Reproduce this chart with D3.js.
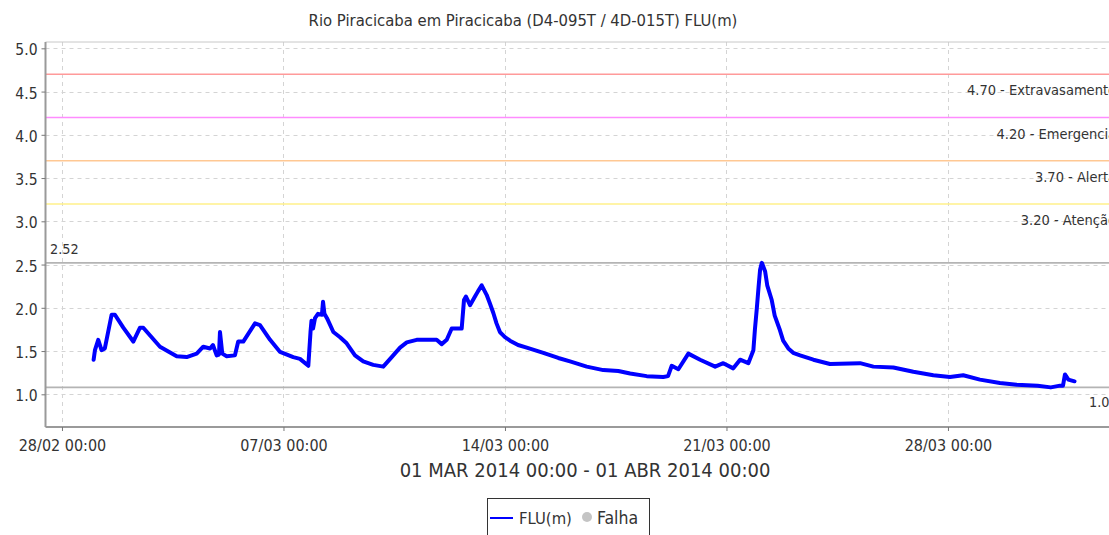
<!DOCTYPE html>
<html>
<head>
<meta charset="utf-8">
<script src="https://cdn.jsdelivr.net/npm/d3@7"></script>
<style>
  html, body { margin: 0; padding: 0; background: #fff; overflow: hidden; }
  svg { display: block; }
  text { font-family: "DejaVu Sans Condensed", "DejaVu Sans", sans-serif; fill: #333; }
</style>
</head>
<body>
<svg id="chart" width="1109" height="535"></svg>
<script>
// River level readings (FLU, metres), March 2014, "DD/MM HH:MM"
const times = [
  "01/03 00:00","01/03 01:00","01/03 03:30","01/03 06:00","01/03 08:30","01/03 13:40","01/03 16:10","01/03 22:30",
  "02/03 06:05","02/03 11:10","02/03 13:40","03/03 02:20","03/03 15:00","03/03 22:35","04/03 06:10","04/03 11:10",
  "04/03 16:20","04/03 18:30","04/03 21:20","04/03 23:05","04/03 23:50","05/03 01:35","05/03 04:55","05/03 11:10",
  "05/03 13:40","05/03 17:30","06/03 02:25","06/03 06:10","06/03 13:50","06/03 21:25","07/03 07:25","07/03 12:30",
  "07/03 18:50","07/03 20:30","07/03 21:15","07/03 22:25","07/03 23:55","08/03 02:10","08/03 05:10","08/03 06:00",
  "08/03 07:05","08/03 09:00","08/03 13:50","08/03 18:55","08/03 23:55","09/03 06:15","09/03 12:30","09/03 20:05",
  "10/03 03:40","10/03 10:05","10/03 16:25","10/03 21:30","11/03 05:00","11/03 20:10","12/03 00:00","12/03 03:50",
  "12/03 07:35","12/03 15:10","12/03 16:55","12/03 18:25","12/03 21:30","13/03 01:15","13/03 03:30","13/03 06:20",
  "13/03 10:05","13/03 12:35","13/03 15:10","13/03 17:35","13/03 20:10","14/03 00:00","14/03 03:50","14/03 09:55",
  "14/03 16:30","15/03 05:05","15/03 16:25","16/03 01:20","16/03 14:00","17/03 02:35","17/03 14:00","17/03 22:55",
  "18/03 11:30","19/03 00:05","19/03 03:40","19/03 06:30","19/03 11:30","19/03 19:05","20/03 04:00","20/03 15:25",
  "20/03 21:35","21/03 05:10","21/03 10:20","21/03 16:35","21/03 20:25","21/03 21:35","21/03 23:00","22/03 00:20",
  "22/03 01:30","22/03 02:50","22/03 05:20","22/03 06:55","22/03 10:20","22/03 12:35","22/03 16:35","22/03 19:00",
  "22/03 22:55","23/03 02:35","23/03 07:50","23/03 17:55","24/03 06:30","25/03 05:20","25/03 15:25","26/03 06:35",
  "26/03 21:45","27/03 12:55","28/03 01:30","28/03 11:35","29/03 00:15","29/03 15:25","30/03 04:05","30/03 20:00",
  "31/03 06:00","31/03 13:00","31/03 15:15","31/03 16:45","31/03 19:20","01/04 00:00"
];
const flu = [
  1.40,1.51,1.63,1.51,1.53,1.92,1.92,1.77,
  1.61,1.77,1.77,1.55,1.44,1.43,1.47,1.55,
  1.53,1.57,1.45,1.46,1.72,1.47,1.44,1.45,
  1.61,1.61,1.82,1.80,1.63,1.49,1.43,1.41,
  1.33,1.72,1.85,1.76,1.88,1.93,1.92,2.07,
  1.93,1.88,1.72,1.66,1.59,1.45,1.38,1.34,
  1.32,1.43,1.54,1.60,1.63,1.63,1.58,1.63,
  1.76,1.76,2.09,2.13,2.03,2.13,2.19,2.26,
  2.15,2.05,1.94,1.82,1.72,1.66,1.62,1.57,
  1.54,1.48,1.42,1.38,1.32,1.28,1.27,1.24,
  1.21,1.20,1.21,1.33,1.29,1.47,1.40,1.32,
  1.36,1.30,1.40,1.36,1.51,1.75,1.99,2.24,
  2.44,2.52,2.42,2.26,2.09,1.91,1.74,1.62,
  1.53,1.48,1.45,1.40,1.35,1.36,1.32,1.31,
  1.26,1.22,1.20,1.22,1.17,1.13,1.11,1.10,
  1.08,1.10,1.10,1.23,1.17,1.15
];

// Alert levels
const levelValues = [4.70, 4.20, 3.70, 3.20];
const levelNames  = ["Extravasamento", "Emergencia", "Alerta", "Atenção"];
const levelColors = ["#ff9a9a", "#ff8cff", "#ffc893", "#fff08a"];

const yTicks = [1.0, 1.5, 2.0, 2.5, 3.0, 3.5, 4.0, 4.5, 5.0];
const chartTitle = "Rio Piracicaba em Piracicaba (D4-095T / 4D-015T) FLU(m)";
const periodLabel = "01 MAR 2014 00:00 - 01 ABR 2014 00:00";
const seriesName = "FLU(m)";
const failName = "Falha";

const parse = d3.utcParse("%d/%m/%Y %H:%M");
const data = times.map((t, i) => ({
  t: parse(t.slice(0, 5) + "/2014" + t.slice(5)),
  v: flu[i]
}));

const svg = d3.select("#chart");
const plot = { left: 45.5, right: 1122, top: 42, bottom: 427 };

const x = d3.scaleUtc()
  .domain([Date.UTC(2014, 1, 27, 11, 30), Date.UTC(2014, 3, 2, 12, 0)])
  .range([plot.left, plot.right]);
const y = d3.scaleLinear()
  .domain([0.622, 5.073])
  .range([plot.bottom, plot.top]);

svg.append("defs").append("clipPath").attr("id", "plotclip")
  .append("rect").attr("x", plot.left).attr("y", plot.top)
  .attr("width", plot.right - plot.left).attr("height", plot.bottom - plot.top);

// weekly ticks starting 28/02
const xTickDates = d3.utcDay.range(new Date(Date.UTC(2014, 1, 28)), new Date(Date.UTC(2014, 3, 2)), 7);

// grid
const grid = svg.append("g").attr("stroke", "#d4d4d4").attr("stroke-width", 1)
  .attr("stroke-dasharray", "4,4");
grid.selectAll("line.h").data(yTicks).join("line").attr("class", "h")
  .attr("x1", plot.left).attr("x2", plot.right)
  .attr("y1", d => Math.round(y(d)) + 0.5).attr("y2", d => Math.round(y(d)) + 0.5);
grid.selectAll("line.v").data(xTickDates).join("line").attr("class", "v")
  .attr("y1", plot.top).attr("y2", plot.bottom)
  .attr("x1", d => Math.round(x(d)) + 0.5).attr("x2", d => Math.round(x(d)) + 0.5);

// alert level lines and labels
levelValues.forEach((v, i) => {
  svg.append("line")
    .attr("x1", plot.left).attr("x2", plot.right)
    .attr("y1", y(v)).attr("y2", y(v))
    .attr("stroke", levelColors[i]).attr("stroke-width", 1.6);
  svg.append("text")
    .attr("x", 1116).attr("y", y(v) + 21)
    .attr("text-anchor", "end")
    .style("font-size", "14.5px")
    .text(`${v.toFixed(2)} - ${levelNames[i]}`);
});

// max / min markers
const [vMin, vMax] = d3.extent(flu);
svg.append("line").attr("x1", plot.left).attr("x2", plot.right)
  .attr("y1", y(vMax)).attr("y2", y(vMax))
  .attr("stroke", "#b4b4b4").attr("stroke-width", 1.6);
svg.append("text").attr("x", 50).attr("y", y(vMax) - 8.5)
  .style("font-size", "14.3px").text(vMax.toFixed(2));
svg.append("line").attr("x1", plot.left).attr("x2", plot.right)
  .attr("y1", y(vMin)).attr("y2", y(vMin))
  .attr("stroke", "#b4b4b4").attr("stroke-width", 1.6);
svg.append("text").attr("x", 1089).attr("y", y(vMin) + 20)
  .style("font-size", "14.3px").text(vMin.toFixed(2));

// series
const line = d3.line().x(d => x(d.t)).y(d => y(d.v)).curve(d3.curveLinear);
svg.append("path").datum(data)
  .attr("clip-path", "url(#plotclip)")
  .attr("fill", "none").attr("stroke", "#0000ff")
  .attr("stroke-width", 4).attr("stroke-linejoin", "round").attr("stroke-linecap", "round")
  .attr("d", line);

// plot frame top
svg.append("line").attr("x1", plot.left).attr("x2", plot.right)
  .attr("y1", plot.top).attr("y2", plot.top).attr("stroke", "#c8c8c8").attr("stroke-width", 1);

// axes
const yAxis = d3.axisLeft(y).tickValues(yTicks).tickFormat(d3.format(".1f")).tickSize(4).tickPadding(0);
const gy = svg.append("g").attr("transform", `translate(${plot.left},0)`).call(yAxis);
gy.attr("font-family", null).attr("font-size", null);
gy.select(".domain").attr("stroke", "#9a9a9a").attr("stroke-width", 2)
  .attr("d", `M0,${plot.top}V${plot.bottom}`);
gy.selectAll(".tick line").attr("stroke", "#777");
gy.selectAll(".tick text")
  .attr("x", -8).attr("dy", null).attr("y", 6.5)
  .style("font-size", "15.5px").attr("fill", "#333");

const xAxis = d3.axisBottom(x).tickValues(xTickDates).tickFormat(d3.utcFormat("%d/%m %H:%M"))
  .tickSize(4).tickPadding(0);
const gx = svg.append("g").attr("transform", `translate(0,${plot.bottom})`).call(xAxis);
gx.attr("font-family", null).attr("font-size", null);
gx.select(".domain").attr("stroke", "#9a9a9a").attr("stroke-width", 2)
  .attr("d", `M${plot.left},0H${plot.right}`);
gx.selectAll(".tick line").attr("stroke", "#777");
gx.selectAll(".tick text")
  .attr("dy", null).attr("y", 23.5)
  .style("font-size", "16px").attr("fill", "#333");

// titles
svg.append("text").attr("x", 523).attr("y", 26)
  .attr("text-anchor", "middle").style("font-size", "16.5px").text(chartTitle);
svg.append("text").attr("x", 585).attr("y", 477)
  .attr("text-anchor", "middle").style("font-size", "20px").text(periodLabel);

// legend
const lg = svg.append("g");
lg.append("rect").attr("x", 487.5).attr("y", 498.5).attr("width", 162).attr("height", 50)
  .attr("fill", "#fff").attr("stroke", "#333").attr("stroke-width", 1);
lg.append("line").attr("x1", 490).attr("x2", 513).attr("y1", 518).attr("y2", 518)
  .attr("stroke", "#0000ff").attr("stroke-width", 2);
lg.append("text").attr("x", 519).attr("y", 524)
  .style("font-size", "16.5px").text(seriesName);
lg.append("circle").attr("cx", 587).attr("cy", 517).attr("r", 5).attr("fill", "#c4c4c4");
lg.append("text").attr("x", 597).attr("y", 524)
  .style("font-size", "17.5px").text(failName);
</script>
</body>
</html>
